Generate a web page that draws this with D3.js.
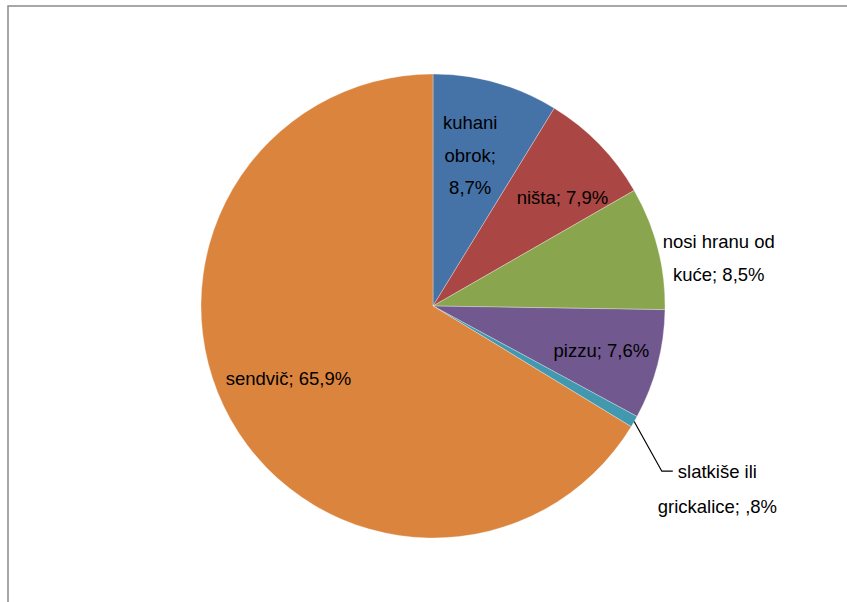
<!DOCTYPE html>
<html>
<head>
<meta charset="utf-8">
<script src="https://cdn.jsdelivr.net/npm/d3@7"></script>
<style>
	body { margin: 0; background: #fff; }
	text { font-family: "Liberation Sans", Arial, sans-serif; font-size: 18.5px; fill: #000; }
</style>
</head>
<body>
<div id="chart"></div>
<script>
// slice names (label lines) and percentages, clockwise from 12 o'clock
var labels = [
	['kuhani', 'obrok;', '8,7%'],
	['ništa; 7,9%'],
	['nosi hranu od', 'kuće; 8,5%'],
	['pizzu; 7,6%'],
	['slatkiše ili', 'grickalice; ,8%'],
	['sendvič; 65,9%']
];
var values = [8.7, 7.9, 8.5, 7.6, 0.8, 65.9];
var colors = ['#4572A7', '#AA4643', '#89A54E', '#71588F', '#4198AF', '#DB843D'];

// label placement: radius factor and small nudges
var labelK = [0.67, 0.73, 1.25, 0.75, 1.2, 0.70];
var labelDx = [-5, 8, 5, 0, 43, -3];
var labelDy = [-1, 10, 25, 0, 44, -7];
var labelLineH = [32.5, 33, 33, 33, 35, 33];

var width = 847;
var height = 602;
var cx = 433, cy = 306;
var radius = 232;

var svg = d3.select('#chart')
	.append('svg')
	.attr('width', width)
	.attr('height', height);

// chart frame (only left and top edges are visible)
svg.append('path')
	.attr('d', 'M8,' + height + 'V6H' + width)
	.attr('fill', 'none')
	.attr('stroke', '#8a8a8a')
	.attr('stroke-width', 1.5);

var g = svg.append('g')
	.attr('transform', 'translate(' + cx + ',' + cy + ')');

var pie = d3.pie()
	.value(function(d) { return d; })
	.sort(null);

var arc = d3.arc()
	.innerRadius(0)
	.outerRadius(radius);

var arcs = pie(values);

g.selectAll('path.slice')
	.data(arcs)
	.enter()
	.append('path')
	.attr('class', 'slice')
	.attr('d', arc)
	.attr('fill', function(d, i) { return colors[i]; })
	.attr('stroke', '#ffffff')
	.attr('stroke-width', 0.5)
	.attr('stroke-opacity', 0.6);

function polar(a, r) {
	return [r * Math.sin(a), -r * Math.cos(a)];
}

arcs.forEach(function(d, i) {
	var mid = (d.startAngle + d.endAngle) / 2;
	var p = polar(mid, radius * labelK[i]);
	var x = p[0] + labelDx[i];
	var y = p[1] + labelDy[i];
	var lines = labels[i];
	var lineH = labelLineH[i];

	var t = g.append('text')
		.attr('text-anchor', 'middle');

	lines.forEach(function(s, j) {
		t.append('tspan')
			.attr('x', x)
			.attr('y', y + (j - (lines.length - 1) / 2) * lineH)
			.attr('dy', '0.35em')
			.text(s);
	});

	// leader line for the thin slice
	if (i === 4) {
		var first = t.select('tspan').node();
		var w = first.getComputedTextLength();
		var ly = y - (lines.length - 1) / 2 * lineH;
		var endX = x - w / 2 - 5;
		var start = polar(mid, radius);
		g.append('polyline')
			.attr('points', [start, [endX - 11, ly], [endX, ly]].map(function(q) { return q.join(','); }).join(' '))
			.attr('fill', 'none')
			.attr('stroke', '#000')
			.attr('stroke-width', 1.2);
	}
});
</script>
</body>
</html>
